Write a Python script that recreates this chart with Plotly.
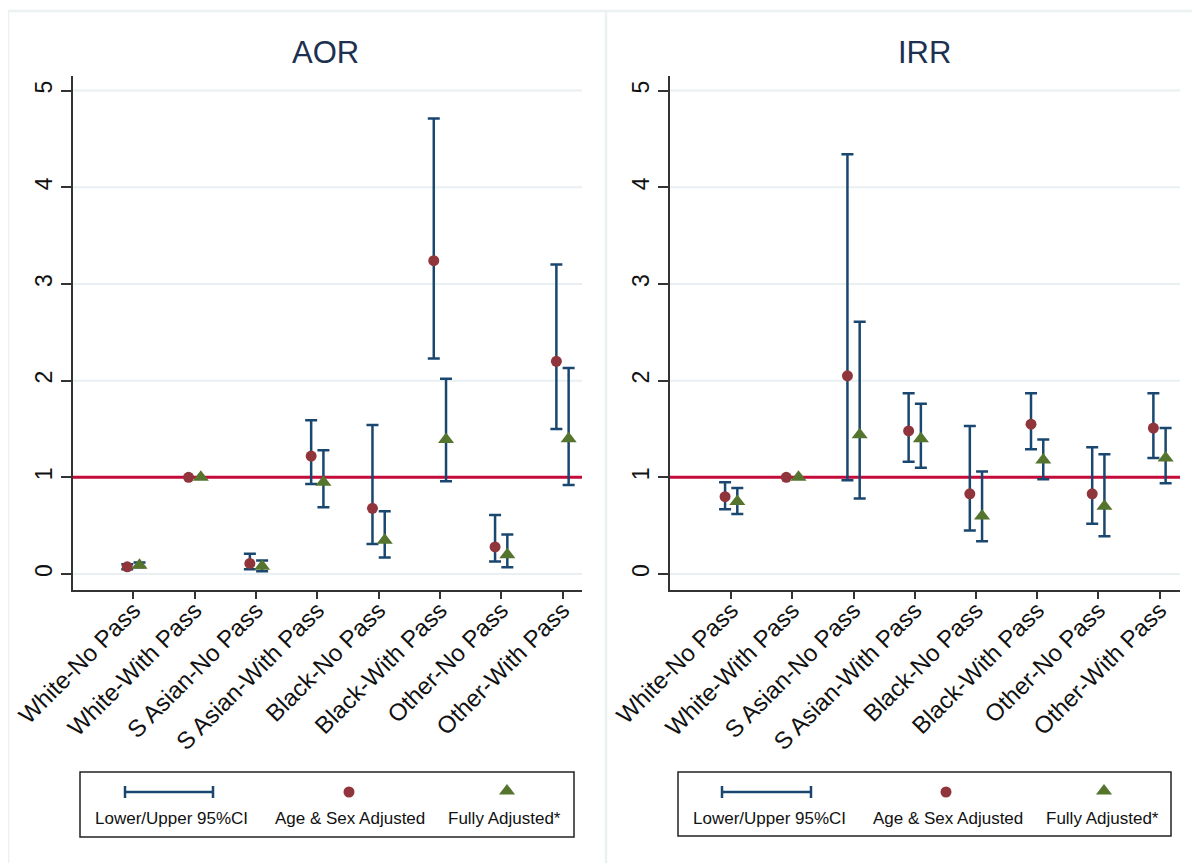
import plotly.graph_objects as go

cats = ["White-No Pass", "White-With Pass", "S Asian-No Pass", "S Asian-With Pass",
        "Black-No Pass", "Black-With Pass", "Other-No Pass", "Other-With Pass"]

aor_age = [0.075, 1.0, 0.11, 1.22, 0.68, 3.24, 0.28, 2.20]
aor_age_lo = [0.05, None, 0.05, 0.93, 0.31, 2.23, 0.13, 1.50]
aor_age_hi = [0.10, None, 0.21, 1.59, 1.54, 4.71, 0.61, 3.20]
aor_full = [0.09, 1.0, 0.08, 0.95, 0.35, 1.39, 0.20, 1.40]
aor_full_lo = [0.07, None, 0.03, 0.69, 0.17, 0.96, 0.07, 0.92]
aor_full_hi = [0.12, None, 0.14, 1.28, 0.65, 2.02, 0.41, 2.13]

irr_age = [0.80, 1.0, 2.05, 1.48, 0.83, 1.55, 0.83, 1.51]
irr_age_lo = [0.67, None, 0.97, 1.16, 0.45, 1.29, 0.52, 1.20]
irr_age_hi = [0.95, None, 4.34, 1.87, 1.53, 1.87, 1.31, 1.87]
irr_full = [0.75, 1.0, 1.44, 1.40, 0.60, 1.18, 0.70, 1.20]
irr_full_lo = [0.62, None, 0.78, 1.10, 0.34, 0.98, 0.39, 0.94]
irr_full_hi = [0.89, None, 2.61, 1.76, 1.06, 1.39, 1.24, 1.51]

y_ticks = [0, 1, 2, 3, 4, 5]
ref_value = 1
panel_titles = ["AOR", "IRR"]
legend_labels = ["Lower/Upper 95%CI", "Age & Sex Adjusted", "Fully Adjusted*"]

# page body has an 8px margin; figure is laid out in page pixel coordinates
OFF = 8
W, H = 1200 - OFF, 863 - OFF
NAVY = "#1a476f"
MAROON = "#90353b"
GREEN = "#55752f"
RED = "#c40c3a"
GRID = "#e9f0f2"
BORDER = "#ebf1f3"
FONT = "Liberation Sans"

fig = go.Figure()

def add_panel(xa, ya, est_a, lo_a, hi_a, est_f, lo_f, hi_f):
    for est, lo, hi, off in [(est_a, lo_a, hi_a, -0.1), (est_f, lo_f, hi_f, 0.1)]:
        idx = [i for i in range(len(cats)) if lo[i] is not None]
        fig.add_trace(go.Scatter(
            x=[i + off for i in idx], y=[est[i] for i in idx], mode="markers",
            marker=dict(color="rgba(0,0,0,0)", size=1),
            error_y=dict(type="data", symmetric=False,
                         array=[hi[i] - est[i] for i in idx],
                         arrayminus=[est[i] - lo[i] for i in idx],
                         color=NAVY, thickness=2.5, width=6),
            xaxis=xa, yaxis=ya, showlegend=False, hoverinfo="skip"))
    fig.add_trace(go.Scatter(
        x=[i - 0.1 for i in range(len(cats))], y=est_a, mode="markers",
        marker=dict(color=MAROON, size=11, symbol="circle"),
        xaxis=xa, yaxis=ya, showlegend=False))
    fig.add_trace(go.Scatter(
        x=[i + 0.1 for i in range(len(cats))], y=est_f, mode="markers",
        marker=dict(color=GREEN, size=14, symbol="triangle-up"),
        xaxis=xa, yaxis=ya, showlegend=False))

add_panel("x", "y", aor_age, aor_age_lo, aor_age_hi, aor_full, aor_full_lo, aor_full_hi)
add_panel("x2", "y2", irr_age, irr_age_lo, irr_age_hi, irr_full, irr_full_lo, irr_full_hi)

def px_x(a, b):
    return [(a - OFF) / W, (b - OFF) / W]

def px_y(top, bottom):
    return [1 - (bottom - OFF) / H, 1 - (top - OFF) / H]

yaxis_common = dict(range=[-0.165, 5.15], tickvals=y_ticks, tickangle=-90,
                    ticks="outside", ticklen=10, tickcolor="#333", tickwidth=1.5,
                    showline=True, linecolor="#333", linewidth=1.5,
                    showgrid=False, zeroline=False,
                    tickfont=dict(family=FONT, size=23, color="#111"), ticklabelstandoff=0,
                    automargin=False)
xaxis_common = dict(tickvals=list(range(len(cats))), ticktext=cats, tickangle=-45,
                    ticks="outside", ticklen=7, tickcolor="#333", tickwidth=1.5,
                    showline=True, linecolor="#333", linewidth=1.5,
                    showgrid=False, zeroline=False, ticklabelstandoff=-12,
                    tickfont=dict(family=FONT, size=24, color="#111"), automargin=False)

fig.update_layout(
    template="none",
    width=W, height=H, margin=dict(l=0, r=0, t=0, b=0, pad=0), autosize=False,
    paper_bgcolor="white", plot_bgcolor="rgba(0,0,0,0)",
    xaxis=dict(domain=px_x(73, 582), range=[-0.985, 7.318], anchor="y", **xaxis_common),
    yaxis=dict(domain=px_y(76, 590), anchor="x", **yaxis_common),
    xaxis2=dict(domain=px_x(670, 1180), range=[-1.0, 7.335], anchor="y2", **xaxis_common),
    yaxis2=dict(domain=px_y(76, 590), anchor="x2", **yaxis_common),
    xaxis3=dict(domain=[0, 1], range=[OFF, OFF + W], visible=False, anchor="y3",
                fixedrange=True, automargin=False),
    yaxis3=dict(domain=[0, 1], range=[OFF + H, OFF], visible=False, anchor="x3",
                fixedrange=True, automargin=False),
    font=dict(family=FONT),
)

# gridlines then reference line, both beneath the data
for xr, yr in [("x domain", "y"), ("x2 domain", "y2")]:
    for t in y_ticks:
        fig.add_shape(type="line", xref=xr, yref=yr, x0=0, x1=1, y0=t, y1=t,
                      line=dict(color=GRID, width=2), layer="below")
    fig.add_shape(type="line", xref=xr, yref=yr, x0=0, x1=1, y0=ref_value, y1=ref_value,
                  line=dict(color=RED, width=3), layer="below")

# panel borders (page pixel coords)
for x0, y0, x1, y1 in [(8, 11, 1200, 11), (8, 11, 8, 863), (606, 11, 606, 863)]:
    fig.add_shape(type="line", xref="x3", yref="y3", x0=x0, y0=y0, x1=x1, y1=y1,
                  line=dict(color=BORDER, width=2.5), layer="above")

# titles
for txt, cx in zip(panel_titles, [325.5, 924.5]):
    fig.add_annotation(x=cx, y=52, xref="x3", yref="y3", text=txt, showarrow=False,
                       font=dict(family=FONT, size=31, color="#1c3150"))

# legends
legends = [
    dict(box=(80, 772, 574, 837), ci=(125, 213), dot=349, tri=507, tx=[171, 350, 504]),
    dict(box=(678, 772, 1171, 836), ci=(722, 811), dot=946, tri=1104, tx=[769, 948, 1102]),
]
for lg in legends:
    bx0, by0, bx1, by1 = lg["box"]
    fig.add_shape(type="rect", xref="x3", yref="y3", x0=bx0, y0=by0, x1=bx1, y1=by1,
                  line=dict(color="#222", width=1.5), fillcolor="rgba(0,0,0,0)", layer="above")
    c0, c1 = lg["ci"]
    fig.add_shape(type="line", xref="x3", yref="y3", x0=c0, x1=c1, y0=792, y1=792,
                  line=dict(color=NAVY, width=2.5), layer="above")
    for cx in (c0, c1):
        fig.add_shape(type="line", xref="x3", yref="y3", x0=cx, x1=cx, y0=786, y1=798,
                      line=dict(color=NAVY, width=2.5), layer="above")
    fig.add_trace(go.Scatter(x=[lg["dot"]], y=[792], mode="markers",
                             marker=dict(color=MAROON, size=11, symbol="circle"),
                             xaxis="x3", yaxis="y3", showlegend=False, hoverinfo="skip"))
    fig.add_trace(go.Scatter(x=[lg["tri"]], y=[791], mode="markers",
                             marker=dict(color=GREEN, size=14, symbol="triangle-up"),
                             xaxis="x3", yaxis="y3", showlegend=False, hoverinfo="skip"))
    for txt, tx in zip(legend_labels, lg["tx"]):
        fig.add_annotation(x=tx, y=818, xref="x3", yref="y3", text=txt, showarrow=False,
                           font=dict(family=FONT, size=17, color="#111"))

fig.write_html("out.html")
